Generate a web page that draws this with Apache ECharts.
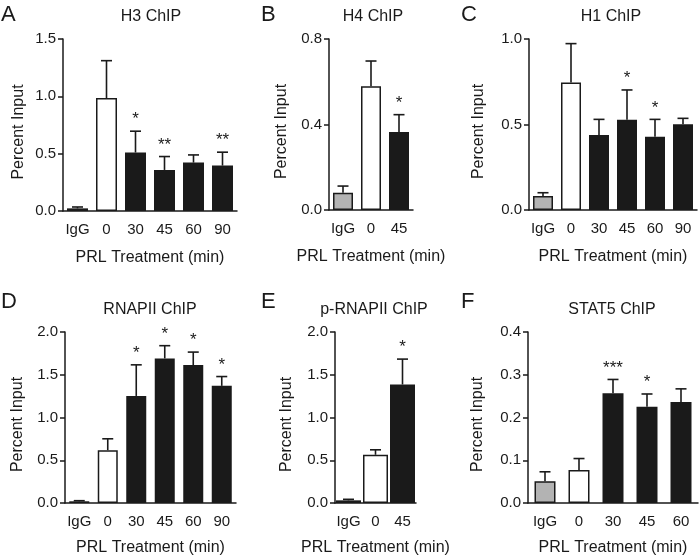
<!DOCTYPE html>
<html>
<head>
<meta charset="utf-8">
<script src="https://cdn.jsdelivr.net/npm/echarts@6/dist/echarts.min.js"></script>
<style>html,body{margin:0;padding:0;background:#fff;}#c{width:700px;height:558px;}</style>
</head>
<body>
<div id="c"></div>
<script>
// ---- Data ----
const catsA = ['IgG', '0', '30', '45', '60', '90'];
const valsA = [0.023, 0.985, 0.51, 0.358, 0.422, 0.396];
const errA = [0.035, 1.311, 0.696, 0.475, 0.489, 0.513];
const starsA = ['', '', '*', '**', '', '**'];
const ticksA = [0, 0.5, 1.0, 1.5];

const catsB = ['IgG', '0', '45'];
const valsB = [0.081, 0.579, 0.365];
const errB = [0.112, 0.697, 0.446];
const starsB = ['', '', '*'];
const ticksB = [0, 0.4, 0.8];

const catsC = ['IgG', '0', '30', '45', '60', '90'];
const valsC = [0.082, 0.745, 0.439, 0.528, 0.429, 0.501];
const errC = [0.101, 0.973, 0.530, 0.702, 0.530, 0.536];
const starsC = ['', '', '', '*', '*', ''];
const ticksC = [0, 0.5, 1.0];

const catsD = ['IgG', '0', '30', '45', '60', '90'];
const valsD = [0.02, 0.618, 1.252, 1.691, 1.613, 1.37];
const errD = [0.027, 0.751, 1.616, 1.84, 1.765, 1.479];
const starsD = ['', '', '*', '*', '*', '*'];
const ticksD = [0, 0.5, 1.0, 1.5, 2.0];

const catsE = ['IgG', '0', '45'];
const valsE = [0.031, 0.564, 1.386];
const errE = [0.043, 0.622, 1.683];
const starsE = ['', '', '*'];
const ticksE = [0, 0.5, 1.0, 1.5, 2.0];

const catsF = ['IgG', '0', '30', '45', '60'];
const valsF = [0.051, 0.077, 0.257, 0.225, 0.236];
const errF = [0.073, 0.104, 0.289, 0.255, 0.267];
const starsF = ['', '', '***', '*', ''];
const ticksF = [0, 0.1, 0.2, 0.3, 0.4];

const letters = ['A', 'B', 'C', 'D', 'E', 'F'];
const titles = ['H3 ChIP', 'H4 ChIP', 'H1 ChIP', 'RNAPII ChIP', 'p-RNAPII ChIP', 'STAT5 ChIP'];
const xName = 'PRL Treatment (min)';
const yName = 'Percent Input';

// ---- Layout ----
const FONT = "'Liberation Sans', Arial, Helvetica, sans-serif";
const INK = '#1a1a1a';
const panels = [
  {cats: catsA, vals: valsA, err: errA, stars: starsA, ticks: ticksA, grid: {left: 63, top: 39, width: 174, height: 172}, bw: 21, yGap: 36, xGap: 39, letter: [1, 4], title: [151, 9]},
  {cats: catsB, vals: valsB, err: errB, stars: starsB, ticks: ticksB, grid: {left: 329, top: 39, width: 84, height: 171}, bw: 20, yGap: 39, xGap: 39, letter: [261, 4], title: [373, 9]},
  {cats: catsC, vals: valsC, err: errC, stars: starsC, ticks: ticksC, grid: {left: 529, top: 39, width: 168, height: 171}, bw: 20, yGap: 42, xGap: 39, letter: [461, 4], title: [611, 9]},
  {cats: catsD, vals: valsD, err: errD, stars: starsD, ticks: ticksD, grid: {left: 65, top: 332, width: 171, height: 171}, bw: 20, yGap: 39, xGap: 37, letter: [1, 291], title: [150, 302]},
  {cats: catsE, vals: valsE, err: errE, stars: starsE, ticks: ticksE, grid: {left: 335, top: 332, width: 81, height: 171}, bw: 25, yGap: 40, xGap: 37, letter: [261, 291], title: [374, 302]},
  {cats: catsF, vals: valsF, err: errF, stars: starsF, ticks: ticksF, grid: {left: 528, top: 332, width: 170, height: 171}, bw: 21, yGap: 42, xGap: 37, letter: [461, 291], title: [612, 302]}
];

function barColor(cat) {
  if (cat === 'IgG') return '#b3b3b3';
  if (cat === '0') return '#ffffff';
  return INK;
}

const grids = [], xAxes = [], yAxes = [], series = [], titleList = [];
panels.forEach((p, k) => {
  grids.push(Object.assign({containLabel: false}, p.grid));
  const step = p.ticks[1] - p.ticks[0];
  xAxes.push({
    type: 'category', gridIndex: k, data: p.cats,
    name: xName, nameLocation: 'middle', nameGap: p.xGap,
    nameTextStyle: {fontFamily: FONT, fontSize: 16, color: INK},
    axisLine: {lineStyle: {color: INK, width: 1.5}},
    axisTick: {alignWithLabel: true, length: 5, lineStyle: {color: INK, width: 1.5}},
    axisLabel: {fontFamily: FONT, fontSize: 15, color: INK, margin: 11, interval: 0}
  });
  yAxes.push({
    type: 'value', gridIndex: k,
    min: p.ticks[0], max: p.ticks[p.ticks.length - 1], interval: step,
    name: yName, nameLocation: 'middle', nameGap: p.yGap,
    nameTextStyle: {fontFamily: FONT, fontSize: 16, color: INK, padding: [0, 14, 0, 0]},
    axisLine: {show: true, lineStyle: {color: INK, width: 1.5}},
    axisTick: {show: true, length: 5, lineStyle: {color: INK, width: 1.5}},
    splitLine: {show: false},
    axisLabel: {fontFamily: FONT, fontSize: 15, color: INK, margin: 7, formatter: v => v.toFixed(1)}
  });
  series.push({
    type: 'bar', xAxisIndex: k, yAxisIndex: k, barWidth: p.bw,
    data: p.vals.map((v, i) => ({value: v, itemStyle: {color: barColor(p.cats[i]), borderColor: INK, borderWidth: 1.5}})),
    z: 2
  });
  series.push({
    type: 'custom', xAxisIndex: k, yAxisIndex: k, z: 3,
    data: p.vals.map((v, i) => [i, v, p.err[i], p.stars[i]]),
    renderItem: (params, api) => {
      const i = api.value(0);
      const base = api.coord([i, api.value(1)]);
      const top = api.coord([i, api.value(2)]);
      const cap = 5.5;
      const star = p.stars[params.dataIndex];
      const children = [
        {type: 'line', shape: {x1: base[0], y1: base[1], x2: top[0], y2: top[1]}, style: {stroke: INK, lineWidth: 1.6}},
        {type: 'line', shape: {x1: top[0] - cap, y1: top[1], x2: top[0] + cap, y2: top[1]}, style: {stroke: INK, lineWidth: 1.6}}
      ];
      if (star) {
        children.push({type: 'text', style: {text: star, x: top[0], y: top[1] - 3, align: 'center', verticalAlign: 'bottom', fontFamily: FONT, fontSize: 17, fill: INK}});
      }
      return {type: 'group', children};
    }
  });
  titleList.push({text: letters[k], left: p.letter[0], top: p.letter[1], padding: 0, textStyle: {fontFamily: FONT, fontSize: 22, fontWeight: 'normal', color: INK}});
  titleList.push({text: titles[k], left: p.title[0], top: p.title[1], padding: 0, textAlign: 'center', textStyle: {fontFamily: FONT, fontSize: 16, fontWeight: 'normal', color: INK}});
});

const chart = echarts.init(document.getElementById('c'), null, {renderer: 'canvas'});
chart.setOption({
  animation: false,
  backgroundColor: '#ffffff',
  title: titleList,
  grid: grids,
  xAxis: xAxes,
  yAxis: yAxes,
  series: series
});
</script>
</body>
</html>
